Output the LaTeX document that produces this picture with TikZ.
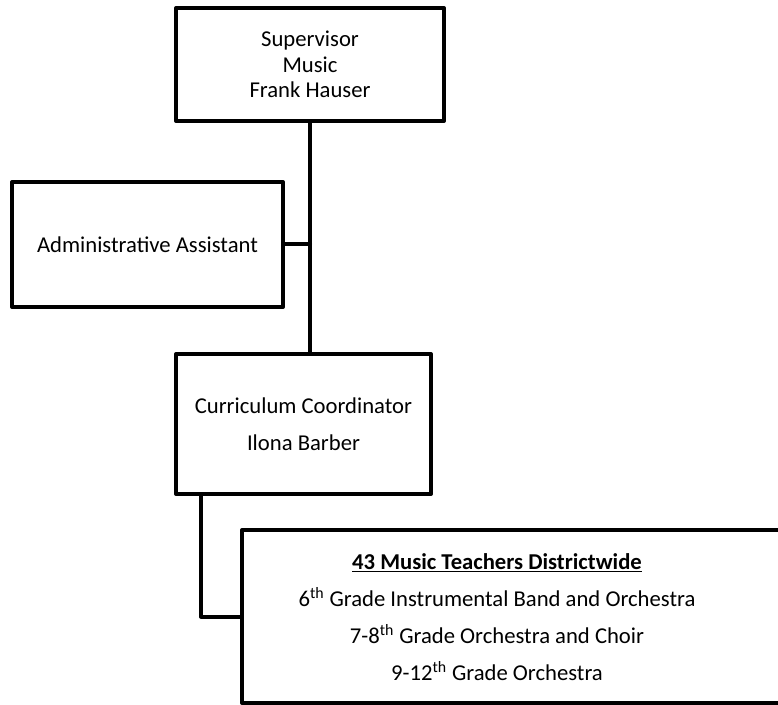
\documentclass[tikz,border=0pt]{standalone}
\usepackage{fontspec}
\setmainfont{Carlito}
\usepackage{tikz}
\usetikzlibrary{positioning}

\begin{document}
\begin{tikzpicture}[line cap=round,line join=round,x=0.75pt,y=-0.75pt,
    orgbox/.style={draw=black,line width=3pt,fill=white,align=center,inner sep=0pt},
    orgline/.style={draw=black,line width=3pt},
    boxtext/.style={align=center,inner sep=0pt,font=\fontsize{17}{27.75}\selectfont}]
    \useasboundingbox (0,0) rectangle (778,705);
    \clip (0,0) rectangle (778,705);
    \node[orgbox,minimum width=268*0.75pt,minimum height=113*0.75pt,
      font=\fontsize{17}{19}\selectfont] (sup) at (310,64.5)
      {Supervisor\\Music\\Frank Hauser};
    \node[orgbox,minimum width=271*0.75pt,minimum height=125*0.75pt,
      font=\fontsize{17}{19}\selectfont] (admin) at (147.5,244.5)
      {Administrative Assistant};
    \node[orgbox,minimum width=255*0.75pt,minimum height=140*0.75pt] (curr) at (303.5,424) {};
    \node[boxtext] (currtxt) at (303.5,424)
      {Curriculum Coordinator\\Ilona Barber};
    \node[orgbox,minimum width=560*0.75pt,minimum height=173*0.75pt] (teach) at (522,616.5) {};
    \node[boxtext] (teachtxt) at (497,617)
      {\underline{\textbf{43 Music Teachers Districtwide}}\\
       6\textsuperscript{th} Grade Instrumental Band and Orchestra\\
       7-8\textsuperscript{th} Grade Orchestra and Choir\\
       9-12\textsuperscript{th} Grade Orchestra};
    \draw[orgline] (sup.south) -- (sup.south |- curr.north);
    \draw[orgline] (admin.east) -- (admin.east -| sup.south);
    \draw[orgline] ([xshift=27*0.75pt]curr.south west) |- (teach.west);
  \end{tikzpicture}
\end{document}
